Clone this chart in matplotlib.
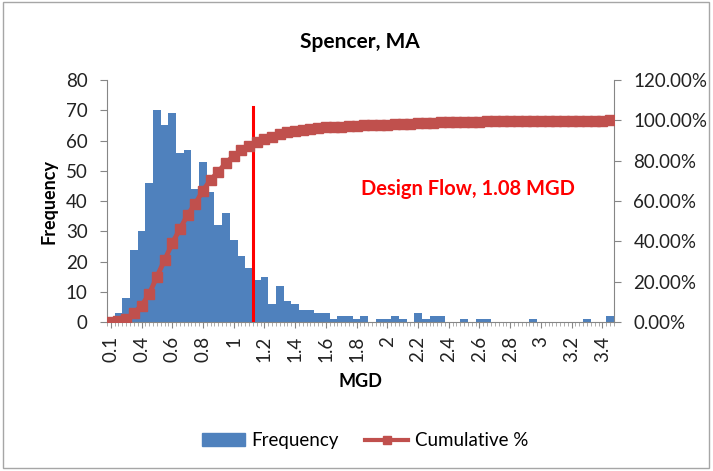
import numpy as np
import matplotlib
matplotlib.use('Agg')
import matplotlib.pyplot as plt
from matplotlib.patches import Rectangle, Patch
from matplotlib.lines import Line2D

plt.rcParams['font.family'] = ['Lato', 'DejaVu Sans']

# Histogram counts per MGD bin
frequency = [1, 3, 8, 24, 30, 46, 70, 65, 69, 56,
             57, 44, 53, 43, 32, 36, 27, 22, 18, 14,
             15, 6, 12, 7, 6, 4, 4, 3, 3, 1,
             2, 2, 1, 2, 0, 1, 1, 2, 1, 0,
             3, 1, 2, 2, 0, 0, 1, 0, 1, 1,
             0, 0, 0, 0, 0, 1, 0, 0, 0, 0,
             0, 0, 1, 0, 0, 2]
tick_labels = ['0.1', '0.4', '0.6', '0.8', '1', '1.2', '1.4', '1.6', '1.8',
               '2', '2.2', '2.4', '2.6', '2.8', '3', '3.2', '3.4']
design_label = 'Design Flow, 1.08 MGD'

blue = '#4F81BD'
red_line = '#C0504D'

n = len(frequency)
x = np.arange(n)
cum_pct = np.cumsum(frequency) / np.sum(frequency) * 100

fig = plt.figure(figsize=(7.13, 4.71), dpi=100)
ax = fig.add_axes([0.150, 0.316, 0.711, 0.514])
ax2 = ax.twinx()

ax.bar(x, frequency, width=1.0, color=blue, zorder=2)
ax2.plot(x, cum_pct, color=red_line, lw=3.5, marker='s', ms=6.5, zorder=3)

# design flow marker (sits between the 1.1 and 1.15 bins)
ax.plot([18.5, 18.5], [0, 71], color='#FF0000', lw=2.2, zorder=4)
ax.text(46.5, 44, design_label, color='#FF0000', fontsize=14.5,
        fontweight='bold', ha='center', va='center')

ax.set_xlim(-0.5, n - 0.5)
ax.set_ylim(0, 80)
ax2.set_ylim(0, 120)
ax.set_yticks(range(0, 81, 10))
ax2.set_yticks(range(0, 121, 20))
ax2.set_yticklabels(['{:.2f}%'.format(v) for v in range(0, 121, 20)])

ax.set_xticks(np.arange(0, 65, 4))
ax.set_xticklabels(tick_labels, rotation=90)
ax.set_xticks(np.arange(-0.5, n, 0.5), minor=True)

for a in (ax, ax2):
    a.spines['top'].set_visible(False)
    for s in a.spines.values():
        s.set_color('#868686')
    a.tick_params(colors='#868686', labelcolor='#222222', labelsize=13.5,
                  length=5, pad=9)
ax.spines['right'].set_visible(False)
ax2.spines['left'].set_visible(False)
ax2.spines['bottom'].set_visible(False)
ax.tick_params(axis='x', which='major', length=4, pad=6)
ax.tick_params(axis='x', which='minor', length=3, color='#a0a0a0')

ax.set_ylabel('Frequency', fontsize=13, fontweight='bold', labelpad=6)
ax.set_xlabel('MGD', fontsize=13, fontweight='bold', labelpad=8)
fig.text(0.505, 0.91, 'Spencer, MA', fontsize=15, fontweight='bold',
         ha='center', va='center')

handles = [Patch(color=blue, label='Frequency'),
           Line2D([], [], color=red_line, lw=3, marker='s', ms=6,
                  label='Cumulative %')]
fig.legend(handles=handles, loc='center', bbox_to_anchor=(0.512, 0.064),
           ncol=2, frameon=False, fontsize=13.5, handlelength=2.3,
           columnspacing=1.4, handletextpad=0.35)

fig.patches.append(Rectangle((0.004, 0.006), 0.99, 0.99, transform=fig.transFigure,
                             fill=False, edgecolor='#a6a6a6', lw=1))

fig.savefig('out.png', dpi=100)
